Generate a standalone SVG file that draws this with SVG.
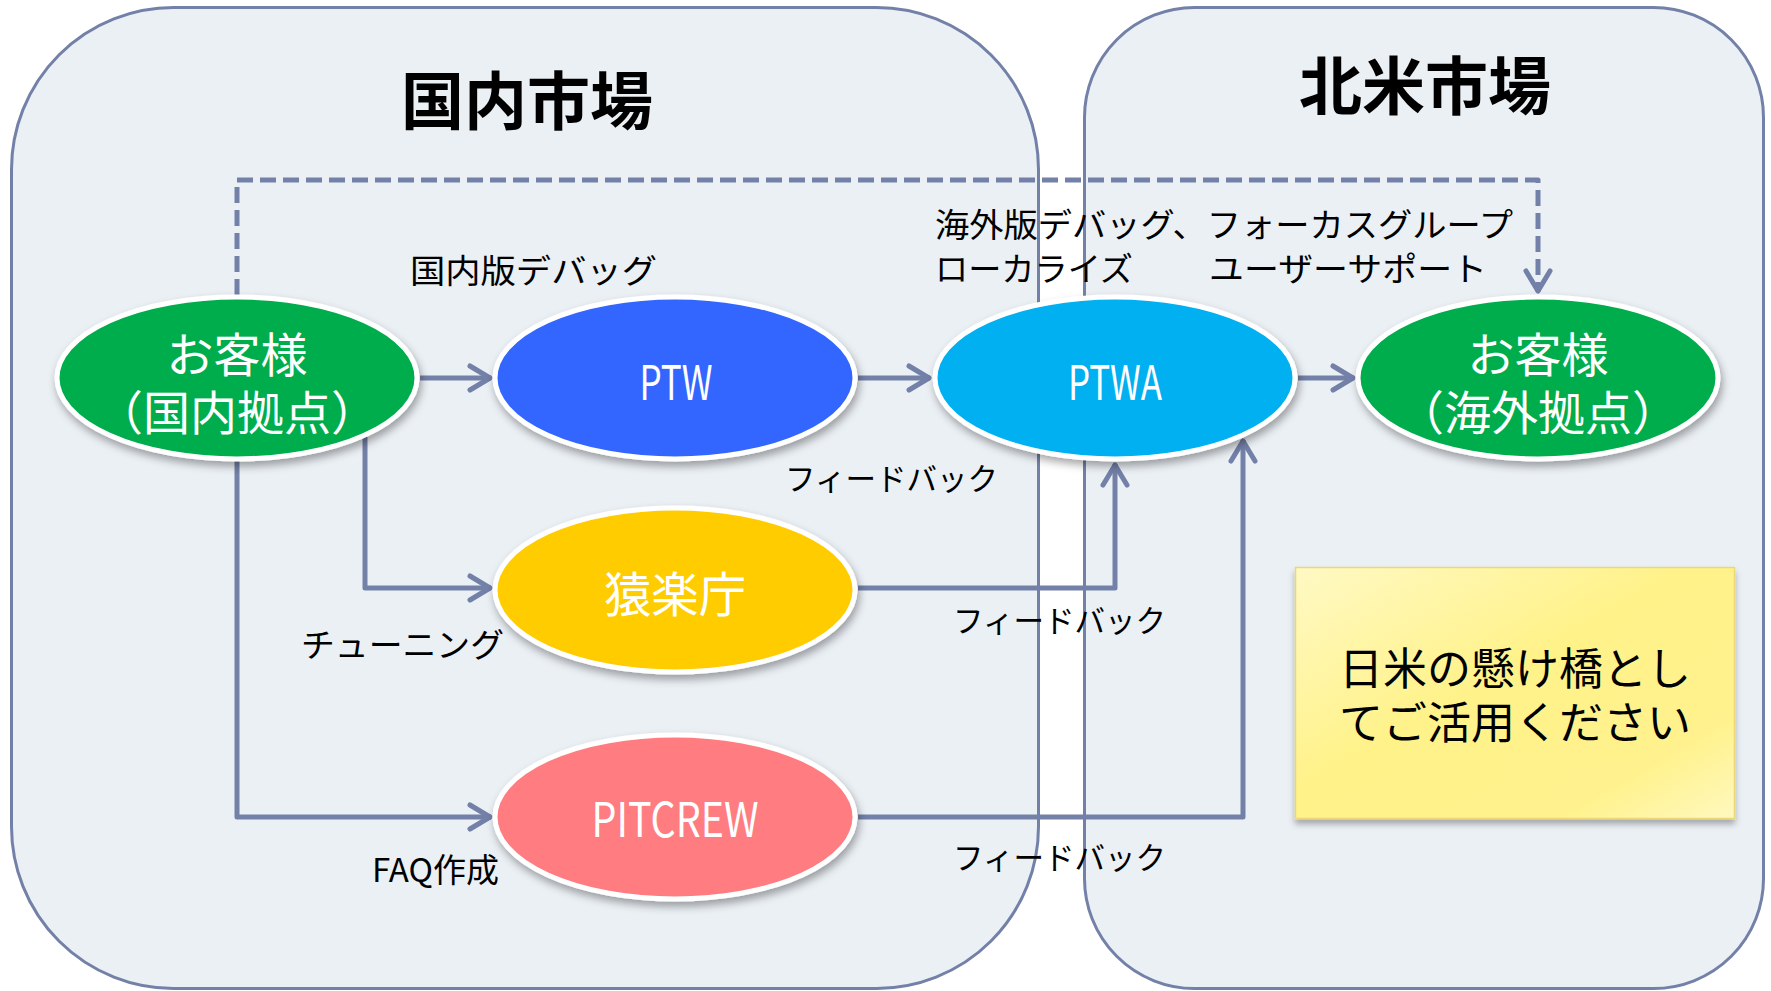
<svg xmlns="http://www.w3.org/2000/svg" width="1771" height="991" viewBox="0 0 1771 991">
<style>
.panel{fill:#EBF0F5;stroke:#7380A8;stroke-width:3}
.conn{fill:none;stroke:#7380A8;stroke-width:5;stroke-linejoin:round}
.dash{stroke-dasharray:16 7}
.node{stroke:#FFFFFF;stroke-width:5;filter:url(#sh)}
.t{font-family:"Noto Sans CJK JP","Noto Sans",sans-serif}
.title{font-size:63px;font-weight:700;fill:#000;text-anchor:middle}
.lab{font-size:33px;fill:#000}
.fb{font-size:31px;fill:#000}
.wt{fill:#FFFFFF;text-anchor:middle}
.big{font-size:47px}
.pt{font-size:48px}
.note{font-size:44px;fill:#000;text-anchor:middle}
</style>
<defs>
<filter id="sh" x="-20%" y="-20%" width="140%" height="150%">
<feDropShadow dx="2" dy="5" stdDeviation="4" flood-color="#000" flood-opacity="0.35"/>
</filter>
<filter id="nsh" x="-10%" y="-10%" width="120%" height="130%">
<feDropShadow dx="0" dy="5" stdDeviation="3" flood-color="#000" flood-opacity="0.3"/>
</filter>
<linearGradient id="ng" x1="0" y1="0" x2="1" y2="1">
<stop offset="0" stop-color="#FFF9C4"/>
<stop offset="0.45" stop-color="#FFF289"/>
<stop offset="0.8" stop-color="#FFF28E"/>
<stop offset="1" stop-color="#FFF8BE"/>
</linearGradient>
<marker id="ar" viewBox="-26 -16 30 32" refX="0" refY="0" markerWidth="30" markerHeight="32" markerUnits="userSpaceOnUse" orient="auto">
<path d="M-21,-12 L-1,0 L-21,12" fill="none" stroke="#7380A8" stroke-width="5" stroke-linecap="round" stroke-linejoin="round" stroke-dasharray="none"/>
</marker>
</defs>

<g id="panel-domestic">
<rect class="panel" x="11.5" y="7.5" width="1027" height="981" rx="162" ry="162"/>
<text class="t title" x="527" y="124">国内市場</text>
</g>
<g id="panel-na">
<rect class="panel" x="1084.5" y="7.5" width="679" height="981" rx="110" ry="110"/>
<text class="t title" x="1425" y="109">北米市場</text>
</g>

<g id="connectors">
<path class="conn" d="M420,378 H491" marker-end="url(#ar)"/>
<path class="conn" d="M858,378 H930" marker-end="url(#ar)"/>
<path class="conn" d="M1298,378 H1354" marker-end="url(#ar)"/>
<path class="conn" d="M365,437 V588 H491" marker-end="url(#ar)"/>
<path class="conn" d="M237,461 V817 H491" marker-end="url(#ar)"/>
<path class="conn" d="M858,588 H1115 V464" marker-end="url(#ar)"/>
<path class="conn" d="M858,817 H1243 V440" marker-end="url(#ar)"/>
<path class="conn dash" d="M237,295 V180 H1538 V292" marker-end="url(#ar)"/>
</g>

<g id="labels">
<text class="t lab" x="410" y="283" textLength="247" lengthAdjust="spacingAndGlyphs">国内版デバッグ</text>
<text class="t lab" x="935" y="237" textLength="578" lengthAdjust="spacingAndGlyphs">海外版デバッグ、フォーカスグループ</text>
<text class="t lab" x="935" y="281" textLength="198" lengthAdjust="spacingAndGlyphs">ローカライズ</text>
<text class="t lab" x="1209" y="281" textLength="278" lengthAdjust="spacingAndGlyphs">ユーザーサポート</text>
<text class="t fb" x="785" y="490" textLength="213" lengthAdjust="spacingAndGlyphs">フィードバック</text>
<text class="t fb" x="953" y="632" textLength="213" lengthAdjust="spacingAndGlyphs">フィードバック</text>
<text class="t fb" x="953" y="869" textLength="213" lengthAdjust="spacingAndGlyphs">フィードバック</text>
<text class="t lab" x="301" y="657" textLength="203" lengthAdjust="spacingAndGlyphs">チューニング</text>
<text class="t lab" x="372" y="882">FAQ作成</text>
</g>

<g id="node-customer-jp">
<ellipse class="node" cx="237" cy="378" rx="180" ry="81" fill="#00AD4E"/>
<text class="t wt big" x="237" y="372">お客様</text>
<text class="t wt big" x="237" y="430">（国内拠点）</text>
</g>
<g id="node-ptw">
<ellipse class="node" cx="675" cy="378" rx="180" ry="81" fill="#3366FF"/>
<text class="t wt pt" x="676" y="400" textLength="73" lengthAdjust="spacingAndGlyphs">PTW</text>
</g>
<g id="node-ptwa">
<ellipse class="node" cx="1115" cy="378" rx="180" ry="81" fill="#00B0F0"/>
<text class="t wt pt" x="1115" y="400" textLength="94" lengthAdjust="spacingAndGlyphs">PTWA</text>
</g>
<g id="node-customer-os">
<ellipse class="node" cx="1538" cy="378" rx="180" ry="81" fill="#00AD4E"/>
<text class="t wt big" x="1538" y="372">お客様</text>
<text class="t wt big" x="1538" y="430">（海外拠点）</text>
</g>
<g id="node-sarugakucho">
<ellipse class="node" cx="675" cy="590" rx="180" ry="82" fill="#FFCC00"/>
<text class="t wt" x="675" y="612" font-size="48" textLength="142" lengthAdjust="spacingAndGlyphs">猿楽庁</text>
</g>
<g id="node-pitcrew">
<ellipse class="node" cx="675" cy="817" rx="180" ry="82" fill="#FF7C80"/>
<text class="t wt pt" x="675" y="837" textLength="167" lengthAdjust="spacingAndGlyphs">PITCREW</text>
</g>

<g id="node-note">
<rect x="1295.5" y="567.5" width="439" height="251" fill="url(#ng)" stroke="#EBD77A" stroke-width="1.5" filter="url(#nsh)"/>
<text class="t note" x="1515" y="685">日米の懸け橋とし</text>
<text class="t note" x="1515" y="739">てご活用ください</text>
</g>
</svg>
